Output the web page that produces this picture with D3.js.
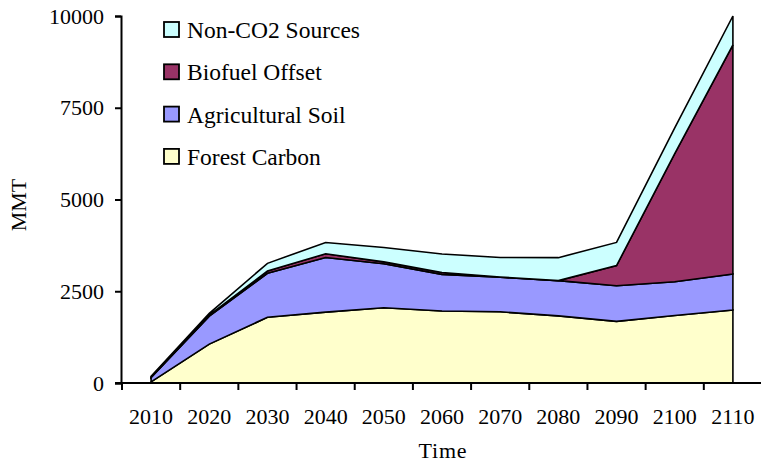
<!DOCTYPE html>
<html>
<head>
<meta charset="utf-8">
<script src="https://cdn.jsdelivr.net/npm/d3@7"></script>
<style>
  html, body { margin: 0; padding: 0; background: #fff; }
  svg { display: block; }
  text { font-family: "Liberation Serif", "Times New Roman", serif; fill: #000; }
</style>
</head>
<body>
<svg id="chart" width="761" height="464"></svg>
<script>
// Time periods on the category axis
const years = ["2010", "2020", "2030", "2040", "2050", "2060", "2070", "2080", "2090", "2100", "2110"];

// Mitigation by source, MMT (stacked bottom to top)
const forestCarbon   = [30, 1060, 1790, 1930, 2050, 1960, 1940, 1830, 1680, 1840, 1990];
const agriculturalSoil = [120, 760, 1200, 1490, 1200, 1000, 940, 960, 970, 920, 980];
const biofuelOffset  = [10, 30, 60, 100, 50, 50, 10, 0, 550, 3490, 6240];
const nonCO2Sources  = [20, 50, 210, 310, 390, 505, 530, 625, 630, 700, 790];

const yTicks = [0, 2500, 5000, 7500, 10000];

const seriesNames = ["Forest Carbon", "Agricultural Soil", "Biofuel Offset", "Non-CO2 Sources"];
const seriesColors = ["#FFFFCC", "#9999FF", "#993366", "#CCFFFF"];
const seriesValues = [forestCarbon, agriculturalSoil, biofuelOffset, nonCO2Sources];

const rows = years.map((yr, i) => {
  const r = { year: yr };
  seriesNames.forEach((n, k) => { r[n] = seriesValues[k][i]; });
  return r;
});

const svg = d3.select("#chart");
const plotLeft = 121, plotRight = 762, plotTop = 16, plotBottom = 383;

const x = d3.scaleBand().domain(years).range([plotLeft + 1, plotRight]).paddingInner(0).paddingOuter(0);
const y = d3.scaleLinear().domain([0, 10000]).range([plotBottom, plotTop]);

const stack = d3.stack().keys(seriesNames);
const layers = stack(rows);

const area = d3.area()
  .x(d => x(d.data.year) + x.bandwidth() / 2)
  .y0(d => y(d[0]))
  .y1(d => y(d[1]));

svg.append("g")
  .selectAll("path")
  .data(layers)
  .join("path")
  .attr("d", area)
  .attr("fill", (d, i) => seriesColors[i])
  .attr("stroke", "#000")
  .attr("stroke-width", 1.6)
  .attr("stroke-linejoin", "miter");

// Y axis
const yAxis = d3.axisLeft(y).tickValues(yTicks).tickSize(6).tickPadding(11).tickFormat(d3.format("d"));
const gy = svg.append("g").attr("transform", `translate(${plotLeft},0)`).call(yAxis);
gy.select(".domain").attr("stroke-width", 2);
gy.selectAll(".tick line").attr("stroke-width", 2);
gy.selectAll(".tick text").attr("font-size", 22).attr("font-family", "Liberation Serif");

// X axis: ticks between categories, labels centered in each category
const gx = svg.append("g").attr("transform", `translate(0,${plotBottom})`);
gx.append("line").attr("x1", plotLeft - 6).attr("x2", 761).attr("y1", 0).attr("y2", 0)
  .attr("stroke", "#000").attr("stroke-width", 2);
gx.selectAll("line.tk")
  .data(years)
  .join("line")
  .attr("class", "tk")
  .attr("x1", d => x(d)).attr("x2", d => x(d))
  .attr("y1", 0).attr("y2", 7)
  .attr("stroke", "#000").attr("stroke-width", 2);
gx.selectAll("text")
  .data(years)
  .join("text")
  .attr("x", d => x(d) + x.bandwidth() / 2)
  .attr("y", 41)
  .attr("text-anchor", "middle")
  .attr("font-size", 22)
  .text(d => d);

// Axis titles
svg.append("text")
  .attr("x", 443).attr("y", 458)
  .attr("text-anchor", "middle")
  .attr("font-size", 22)
  .attr("letter-spacing", 0.8)
  .text("Time");

svg.append("text")
  .attr("transform", "translate(26,205) rotate(-90)")
  .attr("text-anchor", "middle")
  .attr("font-size", 22)
  .text("MMT");

// Legend, listed top series first
const legendOrder = [3, 2, 1, 0];
const lg = svg.append("g");
legendOrder.forEach((k, i) => {
  const cy = 30 + i * 42.3;
  lg.append("rect")
    .attr("x", 164).attr("y", cy - 8)
    .attr("width", 15).attr("height", 15)
    .attr("fill", seriesColors[k])
    .attr("stroke", "#000").attr("stroke-width", 1.8);
  lg.append("text")
    .attr("x", 187).attr("y", cy + 8)
    .attr("font-size", 23.5)
    .text(seriesNames[k]);
});
</script>
</body>
</html>
